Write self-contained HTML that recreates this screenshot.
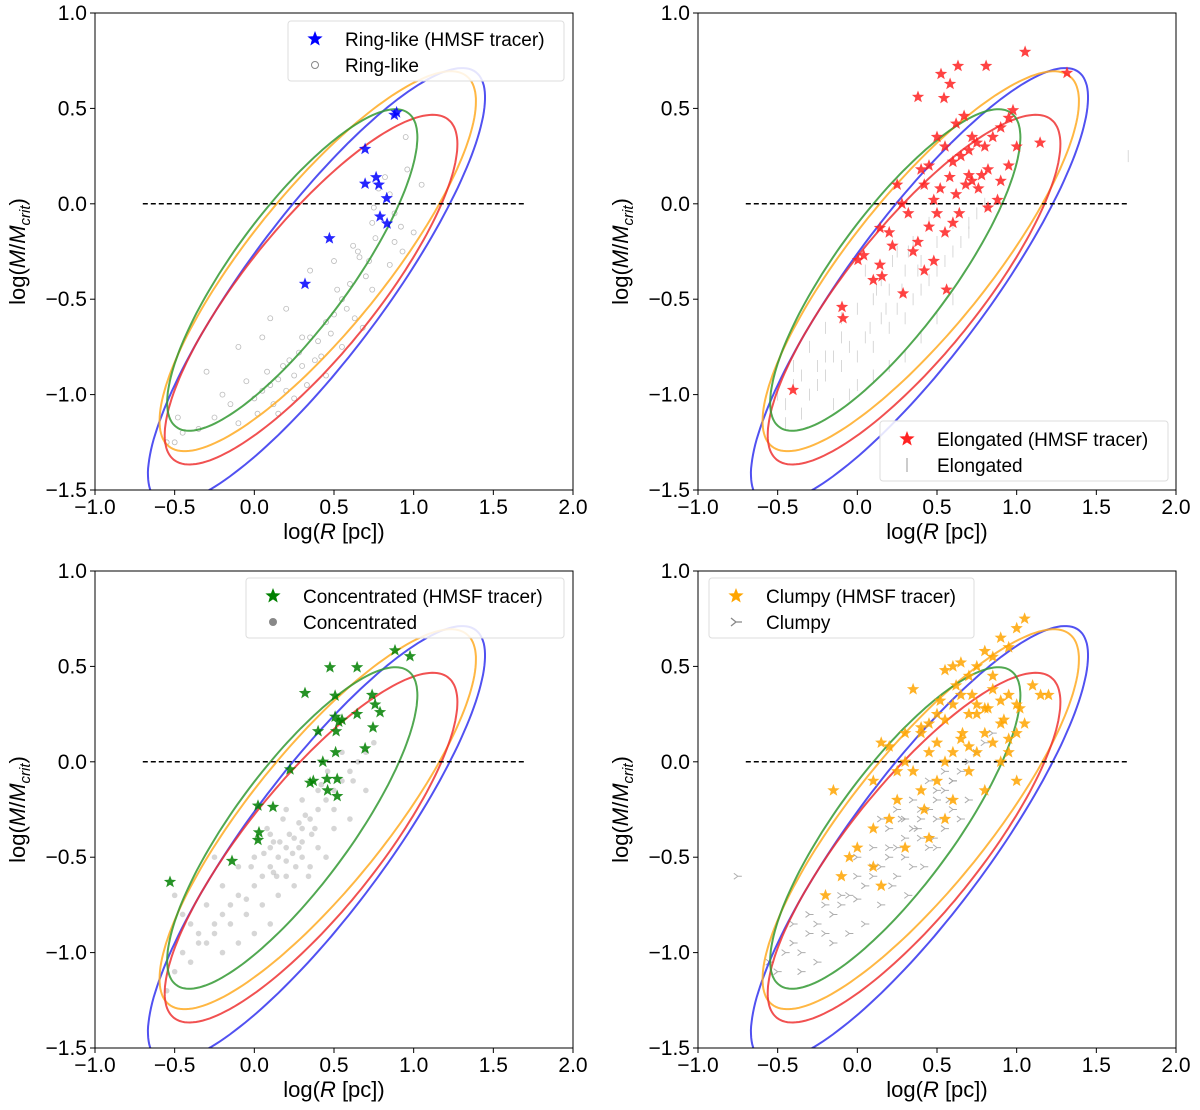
<!DOCTYPE html>
<html><head><meta charset="utf-8">
<style>
body{margin:0;background:#fff;}
svg text{font-family:"Liberation Sans","DejaVu Sans",sans-serif;fill:#000;}
</style></head>
<body>
<svg id="fig" width="1200" height="1105" viewBox="0 0 1200 1105" xmlns="http://www.w3.org/2000/svg"></svg>
<script>
// ---- data ----
const xTicks=[-1.0,-0.5,0.0,0.5,1.0,1.5,2.0];
const yTicks=[-1.5,-1.0,-0.5,0.0,0.5,1.0];
const tickLabels=['\u22121.0','\u22120.5','0.0','0.5','1.0','1.5','2.0'];
const yTickLabels=['\u22121.5','\u22121.0','\u22120.5','0.0','0.5','1.0'];
// ellipses: center x,y ; major vector ; minor vector (data units)
const ellipseNames=['blue','orange','red','green'];
const ellipseColors=['#3333ee','#ffaa22','#ee3333','#339933'];
const ellCx=[0.39,0.398,0.356,0.238];
const ellCy=[-0.43,-0.301,-0.450,-0.347];
const ellUx=[1.0,0.935,0.862,0.728];
const ellUy=[1.12,0.970,0.891,0.823];
const ellVx=[0.345,0.334,0.317,0.294];
const ellVy=[-0.22,-0.224,-0.214,-0.181];

const ringStarX=[0.879,0.893,0.695,0.695,0.764,0.781,0.831,0.789,0.833,0.471,0.318];
const ringStarY=[0.466,0.479,0.287,0.105,0.139,0.100,0.029,-0.067,-0.104,-0.181,-0.420];
const ringGrayX=[0.95,1.05,0.82,0.78,0.85,0.88,0.92,1.0,0.75,0.74,0.88,0.93,0.96,0.72,0.76,0.85,0.62,0.66,0.7,0.74,0.6,0.55,0.58,0.63,0.68,0.5,0.52,0.45,0.48,0.55,0.4,0.42,0.35,0.38,0.45,0.3,0.28,0.33,0.25,0.22,0.3,0.2,0.15,0.18,0.25,0.1,0.12,0.05,0.08,0.15,0.0,-0.05,0.02,-0.1,-0.15,-0.2,-0.25,-0.35,-0.45,-0.5,-0.55,-0.48,0.1,0.2,0.35,0.5,0.65,-0.3,-0.1,0.05];
const ringGrayY=[0.35,0.1,0.14,0.08,0.05,-0.05,-0.12,-0.15,-0.02,-0.1,-0.2,-0.25,0.18,-0.3,-0.18,-0.32,-0.22,-0.28,-0.38,-0.45,-0.42,-0.5,-0.55,-0.6,-0.65,-0.58,-0.45,-0.62,-0.68,-0.75,-0.72,-0.8,-0.7,-0.82,-0.9,-0.85,-0.78,-0.95,-0.9,-0.82,-0.7,-0.98,-0.92,-0.85,-1.02,-0.95,-1.05,-0.98,-0.88,-1.1,-1.02,-0.93,-1.1,-1.15,-1.05,-1.0,-1.12,-1.18,-1.2,-1.25,-1.25,-1.12,-0.6,-0.55,-0.35,-0.3,-0.25,-0.88,-0.75,-0.7];

const elongStarX=[1.053,0.525,0.582,0.632,0.808,0.381,0.544,0.67,1.316,0.977,0.95,0.9,0.85,0.8,0.75,0.7,0.65,0.6,0.55,0.5,0.45,0.4,0.78,0.72,0.68,0.62,0.58,0.52,0.48,0.42,0.9,0.95,1.0,0.88,0.82,0.76,0.7,0.64,0.6,0.55,0.5,0.45,0.38,0.32,0.28,0.25,0.35,0.42,0.48,0.56,-0.404,-0.096,-0.09,0.004,0.04,1.147,0.142,0.142,0.155,0.287,0.2,0.22,0.1,0.62,0.72,0.82];
const elongStarY=[0.796,0.68,0.628,0.722,0.722,0.56,0.554,0.46,0.686,0.49,0.45,0.4,0.35,0.3,0.32,0.28,0.25,0.22,0.3,0.35,0.2,0.18,0.15,0.12,0.1,0.05,0.14,0.08,0.02,0.1,0.12,0.2,0.3,0.02,-0.02,0.08,0.15,-0.05,-0.1,-0.15,-0.05,-0.12,-0.2,-0.05,0.0,0.1,-0.25,-0.35,-0.3,-0.45,-0.976,-0.541,-0.6,-0.295,-0.27,0.32,-0.127,-0.32,-0.38,-0.47,-0.15,-0.22,-0.4,0.42,0.35,0.18];
const elongGrayX=[-0.5,-0.45,-0.4,-0.35,-0.3,-0.25,-0.2,-0.15,-0.1,-0.05,0.0,0.05,0.1,0.15,0.2,0.25,0.3,0.35,0.4,0.45,0.5,0.55,0.6,0.65,0.7,0.75,0.8,-0.3,-0.2,-0.1,0.0,0.1,0.2,0.3,0.4,0.5,0.6,0.7,-0.4,-0.2,0.0,0.2,0.4,0.6,0.05,0.15,0.25,0.35,0.45,-0.05,-0.15,0.1,0.3,0.5,1.7,-0.25,-0.1,0.08,0.18,0.28,0.38,0.12,0.22,0.32,-0.35,-0.45];
const elongGrayY=[-1.0,-1.05,-0.95,-0.9,-1.0,-0.85,-0.9,-0.8,-0.85,-0.75,-0.8,-0.7,-0.75,-0.6,-0.65,-0.55,-0.6,-0.5,-0.45,-0.4,-0.35,-0.3,-0.25,-0.2,-0.1,-0.05,0.0,-0.75,-0.65,-0.6,-0.55,-0.5,-0.45,-0.35,-0.3,-0.2,-0.1,-0.15,-0.85,-0.8,-0.95,-0.85,-0.7,-0.5,-0.35,-0.4,-0.25,-0.2,-0.1,-1.0,-1.05,-0.9,-0.8,-0.6,0.25,-0.95,-0.7,-0.65,-0.55,-0.45,-0.35,-0.45,-0.3,-0.25,-1.1,-1.15];

const concStarX=[-0.529,-0.14,0.023,0.029,0.023,0.117,0.224,0.318,0.40,0.35,0.475,0.507,0.507,0.53,0.55,0.645,0.883,0.977,0.739,0.758,0.789,0.745,0.695,0.645,0.513,0.51,0.52,0.52,0.456,0.46,0.37,0.43];
const concStarY=[-0.63,-0.52,-0.23,-0.37,-0.41,-0.237,-0.04,0.36,0.16,-0.11,0.495,0.346,0.236,0.21,0.22,0.495,0.584,0.553,0.35,0.30,0.26,0.18,0.07,0.25,0.16,0.05,-0.09,-0.18,-0.09,-0.15,-0.10,0.0];
const concGrayX=[-0.55,-0.5,-0.45,-0.4,-0.35,-0.3,-0.25,-0.2,-0.15,-0.1,-0.05,0.0,0.05,0.1,0.15,0.2,0.25,0.3,0.35,0.4,0.45,0.5,0.55,0.6,0.65,0.7,-0.4,-0.3,-0.2,-0.1,0.0,0.1,0.2,0.3,0.4,0.5,0.6,-0.35,-0.25,-0.15,-0.05,0.05,0.15,0.25,0.35,0.45,-0.2,-0.1,0.0,0.1,0.2,0.3,0.4,0.5,0.08,0.12,0.18,0.22,0.28,0.32,0.38,0.42,0.02,-0.02,0.14,0.26,0.34,0.46,0.55,0.62,-0.45,-0.5,-0.25,0.7,0.75,0.16,0.24,0.2,0.1,0.3,0.06,0.12,0.28,0.36];
const concGrayY=[-1.2,-1.1,-1.0,-1.05,-0.9,-0.95,-0.85,-0.8,-0.75,-0.7,-0.72,-0.65,-0.6,-0.55,-0.5,-0.45,-0.4,-0.35,-0.3,-0.25,-0.2,-0.15,-0.1,-0.05,0.0,0.05,-0.85,-0.75,-0.65,-0.55,-0.5,-0.45,-0.6,-0.5,-0.45,-0.35,-0.3,-0.95,-0.9,-0.85,-0.8,-0.75,-0.7,-0.65,-0.55,-0.5,-1.0,-0.95,-0.9,-0.85,-0.25,-0.2,-0.15,-0.25,-0.35,-0.42,-0.3,-0.38,-0.45,-0.28,-0.35,-0.12,-0.4,-0.55,-0.6,-0.55,-0.6,-0.05,0.05,-0.1,-0.8,-0.7,-0.5,-0.15,0.1,-0.42,-0.48,-0.52,-0.38,-0.42,-0.48,-0.58,-0.32,-0.38];

const clumpStarX=[1.05,1.0,0.95,0.9,0.85,0.8,0.75,0.7,0.65,0.6,0.55,1.1,1.15,1.2,1.0,0.95,0.9,0.85,0.8,0.75,0.7,0.65,0.6,0.55,0.5,0.45,0.4,1.05,1.0,0.95,0.9,0.85,0.8,0.75,0.7,0.65,0.6,0.55,0.5,0.45,0.4,0.35,0.3,0.25,0.2,0.15,0.1,0.25,0.4,0.5,0.6,0.7,0.8,0.9,0.95,1.0,0.35,0.3,0.2,0.1,0.0,-0.05,-0.1,-0.2,-0.15,0.1,0.15,0.3,0.45,0.55,0.75,0.85,0.62,0.72,0.82,0.92,1.02,0.66,0.52,0.42];
const clumpStarY=[0.75,0.7,0.6,0.65,0.55,0.58,0.5,0.45,0.52,0.5,0.48,0.4,0.35,0.35,0.3,0.35,0.32,0.38,0.28,0.3,0.25,0.35,0.3,0.22,0.25,0.2,0.18,0.2,0.15,0.12,0.2,0.1,0.15,0.05,0.08,0.12,0.05,0.0,0.1,0.05,0.15,-0.05,0.0,-0.05,0.08,0.1,-0.1,-0.2,-0.15,-0.1,-0.2,-0.05,-0.15,0.0,0.05,-0.1,0.38,0.15,-0.3,-0.35,-0.45,-0.5,-0.6,-0.7,-0.15,-0.55,-0.65,-0.45,-0.4,-0.3,0.25,0.45,0.4,0.35,0.28,0.22,0.28,0.15,0.32,-0.25];
const clumpGrayX=[-0.75,-0.55,-0.5,-0.45,-0.4,-0.35,-0.3,-0.25,-0.2,-0.15,-0.1,-0.05,0.0,0.05,0.1,0.15,0.2,0.25,0.3,0.35,0.4,0.45,0.5,0.55,0.6,0.65,0.7,0.75,0.8,0.85,-0.4,-0.3,-0.2,-0.1,0.0,0.1,0.2,0.3,0.4,0.5,0.6,0.7,-0.35,-0.25,-0.15,-0.05,0.05,0.15,0.25,0.35,0.45,0.55,0.65,0.2,0.3,0.4,0.5,0.6,0.1,0.0,0.35,0.45,0.55,0.25,0.15,0.5,0.42,0.32,0.22,0.38,0.48,0.28,0.58];
const clumpGrayY=[-0.6,-1.05,-1.1,-1.0,-0.95,-1.0,-0.9,-0.85,-0.9,-0.8,-0.75,-0.7,-0.72,-0.65,-0.6,-0.55,-0.5,-0.45,-0.4,-0.35,-0.3,-0.25,-0.2,-0.15,-0.1,-0.05,0.0,0.05,0.1,0.15,-0.85,-0.8,-0.75,-0.7,-0.6,-0.55,-0.45,-0.3,-0.25,-0.15,-0.1,-0.2,-1.1,-1.05,-0.95,-0.9,-0.85,-0.75,-0.6,-0.55,-0.45,-0.35,-0.3,-0.35,-0.5,-0.4,-0.3,-0.25,-0.45,-0.5,-0.2,-0.1,-0.05,-0.25,-0.3,-0.45,-0.55,-0.7,-0.65,-0.35,-0.4,-0.3,-0.2];

// ---- drawing ----
const NS='http://www.w3.org/2000/svg';
const svg=document.getElementById('fig');
function mk(tag,attrs,parent){const e=document.createElementNS(NS,tag);for(const k in attrs)e.setAttribute(k,attrs[k]);(parent||svg).appendChild(e);return e;}
const PW=478,PH=477;
function starPath(cx,cy,r){let d='';for(let i=0;i<10;i++){const a=-Math.PI/2+i*Math.PI/5;const rr=i%2?r*0.42:r;d+=(i?'L':'M')+(cx+rr*Math.cos(a)).toFixed(1)+','+(cy+rr*Math.sin(a)).toFixed(1);}return d+'Z';}

function panel(id,ox,oy,starX,starY,starColor,grayX,grayY,grayType,legendStar,legendGray,leg){
  const g=mk('g',{});
  
  
  const sx=v=>ox+(v+1)/3*PW;
  const sy=v=>oy+(1-v)/2.5*PH;
  const clipId='clip'+id;
  const cp=mk('clipPath',{id:clipId},g);
  mk('rect',{x:ox,y:oy,width:PW,height:PH},cp);
  const plot=mk('g',{'clip-path':'url(#'+clipId+')'},g);
  for(let i=0;i<grayX.length;i++){
    const px=sx(grayX[i]),py=sy(grayY[i]);let m;
    if(grayType==='circle'){m=mk('circle',{cx:px,cy:py,r:2.5,fill:'none',stroke:'#aaa','stroke-width':0.8,opacity:0.8},plot);}
    else if(grayType==='vline'){m=mk('line',{x1:px,y1:py-6,x2:px,y2:py+6,stroke:'#bbb','stroke-width':0.8,opacity:0.7},plot);}
    else if(grayType==='dot'){m=mk('circle',{cx:px,cy:py,r:2.8,fill:'#999',opacity:0.4},plot);}
    else {m=mk('path',{d:`M${px},${py}L${px-4},${py-3}M${px},${py}L${px-4},${py+3}M${px},${py}L${px+4},${py}`,stroke:'#999','stroke-width':1,fill:'none',opacity:0.8},plot);}
    
    
  }
  for(let k=0;k<ellCx.length;k++){
    let d='';
    for(let t=0;t<=180;t++){const a=t/180*2*Math.PI;
      const x=ellCx[k]+ellUx[k]*Math.cos(a)+ellVx[k]*Math.sin(a);
      const y=ellCy[k]+ellUy[k]*Math.cos(a)+ellVy[k]*Math.sin(a);
      d+=(t?'L':'M')+sx(x).toFixed(1)+','+sy(y).toFixed(1);}
    const p=mk('path',{d:d+'Z',fill:'none',stroke:ellipseColors[k],'stroke-width':2,opacity:0.85},plot);
    
    
  }
  const dl=mk('line',{x1:sx(-0.7),y1:sy(0),x2:sx(1.7),y2:sy(0),stroke:'#000','stroke-width':1.5,'stroke-dasharray':'5,3'},plot);
  
  
  for(let i=0;i<starX.length;i++){
    const s=mk('path',{d:starPath(sx(starX[i]),sy(starY[i]),6.5),fill:starColor,opacity:0.85},plot);
    
    
  }
  const fr=mk('rect',{x:ox,y:oy,width:PW,height:PH,fill:'none',stroke:'#000','stroke-width':1},g);
  
  
  xTicks.forEach((v,i)=>{
    mk('line',{x1:sx(v),y1:oy+PH,x2:sx(v),y2:oy+PH+5,stroke:'#000'},g);
    const t=mk('text',{x:sx(v),y:oy+PH+24,'text-anchor':'middle','font-size':21},g);t.textContent=tickLabels[i];
    
    
  });
  yTicks.forEach((v,i)=>{
    mk('line',{x1:ox-5,y1:sy(v),x2:ox,y2:sy(v),stroke:'#000'},g);
    const t=mk('text',{x:ox-8,y:sy(v)+7,'text-anchor':'end','font-size':21},g);t.textContent=yTickLabels[i];
    
    
  });
  const xl=mk('text',{x:ox+PW/2,y:oy+PH+49,'text-anchor':'middle','font-size':22},g);
  xl.innerHTML='log(<tspan font-style="italic">R</tspan> [pc])';
  
  
  const yl=mk('text',{x:0,y:0,'text-anchor':'middle','font-size':22,transform:`translate(${ox-70},${oy+PH/2}) rotate(-90)`},g);
  yl.innerHTML='log(<tspan font-style="italic">M</tspan>/<tspan font-style="italic">M</tspan><tspan font-style="italic" font-size="15" dy="5">crit</tspan><tspan dy="-5">)</tspan>';
  
  
  const lg=mk('g',{},g);
  
  
  mk('rect',{x:leg[0],y:leg[1],width:leg[2],height:60,rx:3,fill:'#fff',stroke:'#ddd','fill-opacity':0.85},lg);
  const mx=leg[0]+27;
  mk('path',{d:starPath(mx,leg[1]+18,8),fill:starColor},lg);
  const gy=leg[1]+44;
  if(grayType==='circle')mk('circle',{cx:mx,cy:gy,r:3.5,fill:'none',stroke:'#888'},lg);
  else if(grayType==='vline')mk('line',{x1:mx,y1:gy-7,x2:mx,y2:gy+7,stroke:'#999'},lg);
  else if(grayType==='dot')mk('circle',{cx:mx,cy:gy,r:4,fill:'#888'},lg);
  else mk('path',{d:`M${mx},${gy}L${mx-5},${gy-4}M${mx},${gy}L${mx-5},${gy+4}M${mx},${gy}L${mx+6},${gy}`,stroke:'#888','stroke-width':1.3,fill:'none'},lg);
  const t1=mk('text',{x:leg[0]+57,y:leg[1]+25,'font-size':19},lg);t1.textContent=legendStar;
  
  
  const t2=mk('text',{x:leg[0]+57,y:leg[1]+51,'font-size':19},lg);t2.textContent=legendGray;
  
  
}
panel('ring',95,13,ringStarX,ringStarY,'#0000ff',ringGrayX,ringGrayY,'circle','Ring-like (HMSF tracer)','Ring-like',[288,21,276]);
panel('elongated',698,13,elongStarX,elongStarY,'#ff2222',elongGrayX,elongGrayY,'vline','Elongated (HMSF tracer)','Elongated',[880,421,288]);
panel('concentrated',95,571,concStarX,concStarY,'#008000',concGrayX,concGrayY,'dot','Concentrated (HMSF tracer)','Concentrated',[246,578,318]);
panel('clumpy',698,571,clumpStarX,clumpStarY,'#ffa500',clumpGrayX,clumpGrayY,'tri','Clumpy (HMSF tracer)','Clumpy',[709,578,265]);
</script>
</body></html>
